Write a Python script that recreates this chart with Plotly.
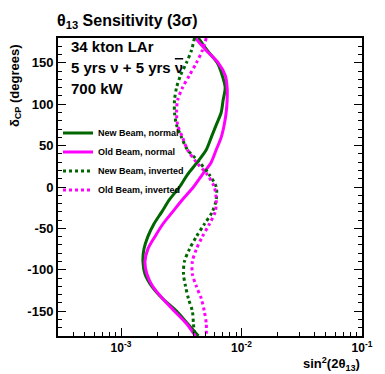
import plotly.graph_objects as go

# delta_CP grid (degrees) and 3 sigma theta13 sensitivity, sin^2(2 theta13) in units of 1e-3
dcp = [180, 165, 150, 135, 120, 105, 90, 75, 60, 45, 30, 15, 0,
       -15, -30, -45, -60, -75, -90, -105, -120, -135, -150, -165, -180]
new_normal = [4.39, 5.20, 6.29, 6.91, 7.32, 7.04, 6.78, 6.17, 5.61, 5.10, 4.30, 3.56, 3.06,
              2.53, 2.18, 1.87, 1.67, 1.55, 1.52, 1.58, 1.80, 2.22, 2.89, 3.56, 4.39]
old_normal = [4.14, 5.10, 6.41, 7.32, 7.60, 7.60, 7.46, 7.18, 6.78, 6.17, 5.61, 4.73, 3.99,
              3.24, 2.68, 2.22, 1.91, 1.67, 1.58, 1.64, 1.83, 2.22, 2.78, 3.49, 4.14]
new_inverted = [4.07, 3.84, 3.49, 3.12, 2.89, 2.78, 2.78, 2.89, 3.18, 3.56, 4.47, 5.40, 6.17,
                6.17, 5.72, 4.91, 4.22, 3.70, 3.36, 3.30, 3.43, 3.63, 3.91, 3.99, 4.07]
old_inverted = [5.10, 4.73, 4.22, 3.70, 3.24, 2.95, 2.89, 2.95, 3.24, 3.56, 4.22, 5.20, 5.94,
                6.17, 6.05, 5.40, 4.73, 4.22, 3.91, 3.91, 4.22, 4.64, 4.91, 5.10, 5.10]

names = ["New Beam, normal", "Old Beam, normal", "New Beam, inverted", "Old Beam, inverted"]
series = [new_normal, old_normal, new_inverted, old_inverted]
colors = ["#006600", "#ff00ff", "#006600", "#ff00ff"]
dashes = ["solid", "solid", "dot", "dot"]

xticks = [1e-3, 1e-2, 1e-1]
xticktext = ["10<sup>-3</sup>", "10<sup>-2</sup>", "10<sup>-1</sup>"]
xminor = [m * 10 ** e for e in (-4, -3, -2) for m in range(2, 10)]

fnt = "Liberation Sans, Arial, sans-serif"

fig = go.Figure()
for nm, vals, col, ds in zip(names, series, colors, dashes):
    fig.add_trace(go.Scatter(
        x=[v * 1e-3 for v in vals], y=dcp, mode="lines", name=nm,
        line=dict(color=col, width=3, dash=ds, shape="spline", smoothing=0.8),
    ))

fig.update_layout(
    width=385, height=374,
    margin=dict(l=58, r=19, t=38, b=38),
    paper_bgcolor="white", plot_bgcolor="white",
    font=dict(family=fnt, color="black"),
    title=dict(text="θ<sub>13</sub> Sensitivity (3σ)", x=57 / 385, xanchor="left",
               y=1 - 20 / 374, yanchor="middle",
               font=dict(size=16, weight="bold")),
    legend=dict(x=0.0, y=0.73, xanchor="left", yanchor="top",
                bgcolor="rgba(0,0,0,0)", font=dict(size=9, weight="bold"),
                tracegroupgap=0, itemwidth=30),
    showlegend=True,
)

fig.update_xaxes(
    type="log", range=[-3.523, -1],
    tickvals=xticks, ticktext=xticktext,
    ticks="inside", ticklen=8, tickwidth=1, tickcolor="black",
    minor=dict(tickvals=xminor, ticks="inside", ticklen=4, tickcolor="black"),
    showline=True, linecolor="black", linewidth=2, mirror=True,
    showgrid=False, zeroline=False,
    tickfont=dict(size=12, weight="bold"),
)
fig.update_yaxes(
    range=[-180, 180],
    tickvals=[-150, -100, -50, 0, 50, 100, 150],
    ticktext=["-150", "-100", "-50", "0", "50", "100", "150"],
    ticks="inside", ticklen=8, tickwidth=1, tickcolor="black",
    minor=dict(dtick=10, ticks="inside", ticklen=4, tickcolor="black"),
    showline=True, linecolor="black", linewidth=2, mirror="ticks",
    showgrid=False, zeroline=False,
    tickfont=dict(size=13, weight="bold"),
)

# ROOT-style axis titles and info text
fig.add_annotation(text="sin<sup>2</sup>(2θ<sub>13</sub>)", xref="paper", yref="paper",
                   x=1.0, y=-0.095, xanchor="right", yanchor="middle", showarrow=False,
                   font=dict(size=13, weight="bold"))
fig.add_annotation(text="δ<sub>CP</sub> (degrees)", xref="paper", yref="paper",
                   x=-0.14, y=0.84, xanchor="center", yanchor="middle", textangle=-90,
                   showarrow=False, font=dict(size=13, weight="bold"))
info = ["34 kton LAr",
        "5 yrs ν + 5 yrs <span style=\"text-decoration:overline\">ν</span>",
        "700 kW"]
for i, line in enumerate(info):
    fig.add_annotation(text=line, xref="paper", yref="paper",
                       x=0.036, y=0.970 - 0.069 * i, xanchor="left", yanchor="middle",
                       showarrow=False, font=dict(size=15, weight="bold"))

fig.write_html("out.html", config={"displayModeBar": False},
               post_script="document.body.style.margin='0';")
